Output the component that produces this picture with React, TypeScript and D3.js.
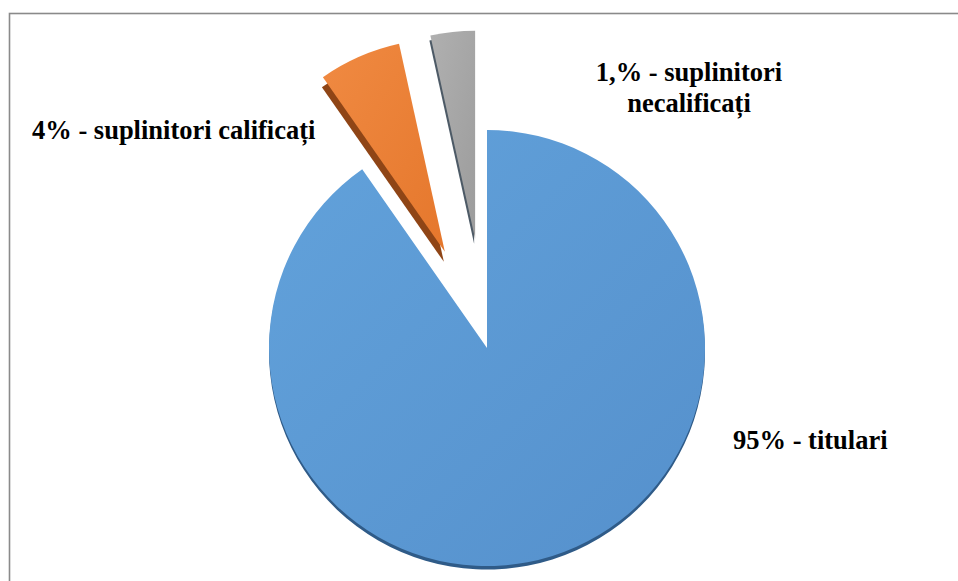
// App.tsx
import React, { useEffect, useRef } from "react";
import * as d3 from "d3";

// Slice shares as they appear in the picture (clockwise from 12 o'clock)
const categories = ["titulari", "suplinitori calificați", "suplinitori necalificați"];
const shares = [90.3, 6.25, 3.45];
const labelLines = [
  ["95% - titulari"],
  ["4% - suplinitori calificați"],
  ["1,% - suplinitori", "necalificați"],
];

interface Slice {
  category: string;
  value: number;
}

// label anchor points (text only)
const labelPos = [
  { x: 733, y: 449, anchor: "start" },
  { x: 32, y: 139, anchor: "start" },
  { x: 689, y: 81, anchor: "middle" },
];

const App: React.FC = () => {
  const ref = useRef<SVGGElement | null>(null);

  useEffect(() => {
    const cx = 487,
      cy = 348;

    const data: Slice[] = categories.map((c, i) => ({ category: c, value: shares[i] }));

    const root = d3.select(ref.current!);
    root.selectAll("*").remove();

    const fills = ["url(#blueGrad)", "url(#orangeGrad)", "url(#grayGrad)"];
    const sides = ["#2f5b88", "#8f4516", "#4d5a66"];
    const radii = [218, 213, 208];
    const explode = [0, 105, 110];
    const depth = [
      [0, 3.5],
      [-1, 10],
      [-1, 5],
    ];

    const pie = d3
      .pie<Slice>()
      .sort(null)
      .value((d) => d.value);
    const arcs = pie(data);

    const g = root.append("g").attr("transform", `translate(${cx},${cy})`);

    arcs.forEach((a, i) => {
      const arc = d3.arc<d3.PieArcDatum<Slice>>().innerRadius(0).outerRadius(radii[i]);
      const mid = (a.startAngle + a.endAngle) / 2;
      const ox = Math.sin(mid) * explode[i];
      const oy = -Math.cos(mid) * explode[i];
      const sg = g.append("g").attr("transform", `translate(${ox},${oy})`);

      // side / thickness
      sg.append("path")
        .attr("d", arc(a)!)
        .attr("transform", `translate(${depth[i][0]},${depth[i][1]})`)
        .attr("fill", sides[i]);

      // top face
      sg.append("path").attr("d", arc(a)!).attr("fill", fills[i]);
    });
  }, []);

  const grads = [
    ["blueGrad", "#62a2db", "#5590cc"],
    ["orangeGrad", "#f08a42", "#e5772c"],
    ["grayGrad", "#b0b0b0", "#9c9c9c"],
  ];

  return (
    <div style={{ position: "absolute", left: 0, top: 0 }}>
      <svg width={958} height={581} style={{ display: "block" }}>
        <defs>
          {grads.map(([id, c1, c2]) => (
            <linearGradient key={id} id={id} x1="0" y1="0" x2="1" y2="1">
              <stop offset="0%" stopColor={c1} />
              <stop offset="100%" stopColor={c2} />
            </linearGradient>
          ))}
        </defs>
        {/* chart frame, runs off the right and bottom */}
        <rect x={9.5} y={13.5} width={978} height={601} fill="white" stroke="#8a8a8a" strokeWidth={1.6} />
        <g ref={ref} />
        {labelLines.map((lines, i) => (
          <text
            key={i}
            x={labelPos[i].x}
            y={labelPos[i].y}
            textAnchor={labelPos[i].anchor}
            fontFamily="Liberation Serif"
            fontWeight="bold"
            fontSize={26.5}
            fill="#000"
          >
            {lines.map((line, j) => (
              <tspan key={j} x={labelPos[i].x} dy={j === 0 ? 0 : 31}>
                {line}
              </tspan>
            ))}
          </text>
        ))}
      </svg>
    </div>
  );
};

export default App;
